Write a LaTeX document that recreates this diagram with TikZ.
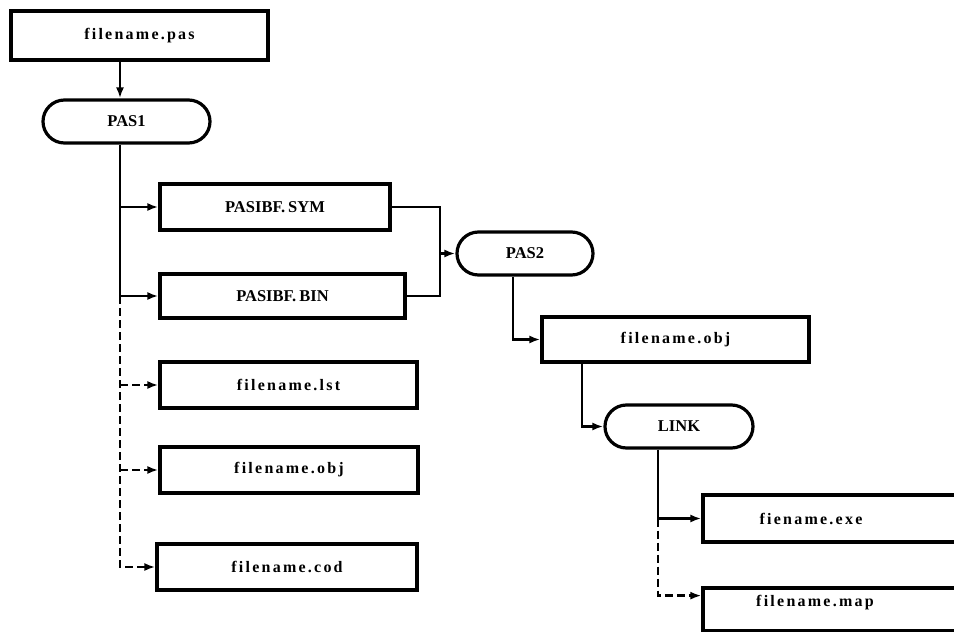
\documentclass[tikz,border=0pt]{standalone}
\usepackage{fontspec}
\setmainfont{Liberation Serif}
\newfontfamily\lblfont[LetterSpace=14]{Liberation Serif}
\newfontfamily\capfont{Liberation Serif}
\usetikzlibrary{shapes.misc,arrows.meta,calc}
\begin{document}
\begin{tikzpicture}[x=1pt,y=-1pt,
  lbl/.style={font=\lblfont\bfseries\fontsize{16}{19}\selectfont},
  caplbl/.style={font=\capfont\bfseries\fontsize{16.5}{19}\selectfont},
  boxline/.style={draw, line width=3.2pt, inner sep=0pt},
  fbox/.style={lbl, boxline, rectangle},
  cbox/.style={caplbl, boxline, rectangle},
  term/.style={caplbl, boxline, rounded rectangle},
  plain/.style={line width=2.3pt},
  conn/.style={plain, -{Latex[length=11pt,width=8pt]}},
  dconn/.style={conn, dash pattern=on 8pt off 4pt}]
\useasboundingbox (0,0) rectangle (954,632);
\clip (0,0) rectangle (954,632);

% nodes
\node[fbox, minimum width=257, minimum height=49] (pas) at (139.5,35.5) {filename.pas};
\node[term, minimum width=167, minimum height=43] (pas1) at (126.5,121.5) {PAS1};
\node[cbox, minimum width=230, minimum height=46] (sym) at (275,207) {PASIBF.\kern3pt SYM};
\node[cbox, minimum width=245, minimum height=44] (bin) at (282.5,296) {PASIBF.\kern3pt BIN};
\node[fbox, minimum width=257, minimum height=46] (lst) at (288.5,385) {filename.lst};
\node[fbox, minimum width=258, minimum height=46] (objl) at (289,470) {filename.obj};
\node[fbox, minimum width=260, minimum height=46] (cod) at (287,567) {filename.cod};
\node[term, minimum width=136, minimum height=43] (pas2) at (525,253.5) {PAS2};
\node[fbox, minimum width=267, minimum height=45] (obj) at (675.5,339.5) {filename.obj};
\node[term, minimum width=148, minimum height=43] (link) at (679,426.5) {LINK};
\node[fbox, minimum width=310, minimum height=47] (exe) at (858,518.5) {};
\node[lbl] (exel) at (811,518.5) {fiename.exe};
\node[fbox, minimum width=310, minimum height=43] (map) at (858,609.5) {};
\node[lbl] (mapl) at (815,603) {filename.map};

% helper coordinates
\coordinate (spine) at (120,0);
\coordinate (mg) at (440,0);
\coordinate (c2) at (513,0);
\coordinate (c3) at (582,0);
\coordinate (c4) at (658,0);
\coordinate (mapin) at ($(map.north west)!0.2!(map.south west)$);

% connectors
\draw[conn] (pas.south -| spine) -- (pas1.north -| spine);
\draw[plain] (pas1.south -| spine) -- (spine |- bin.west);
\draw[conn] (spine |- sym.west) -- (sym.west);
\draw[conn] (spine |- bin.west) -- (bin.west);
\draw[dconn] (spine |- bin.west) -- (spine |- cod.west) -- (cod.west);
\draw[dconn] (spine |- lst.west) -- (lst.west);
\draw[dconn] (spine |- objl.west) -- (objl.west);

\draw[plain] (sym.east) -| (mg |- bin.east) -- (bin.east);
\draw[conn] (mg |- pas2.west) -- (pas2.west);
\draw[conn] (pas2.south -| c2) |- (obj.west);
\draw[conn] (obj.south -| c3) |- (link.west);
\draw[conn] (link.south -| c4) |- (exe.west);
\draw[dconn] (c4 |- exe.west) |- (mapin);
\end{tikzpicture}
\end{document}
